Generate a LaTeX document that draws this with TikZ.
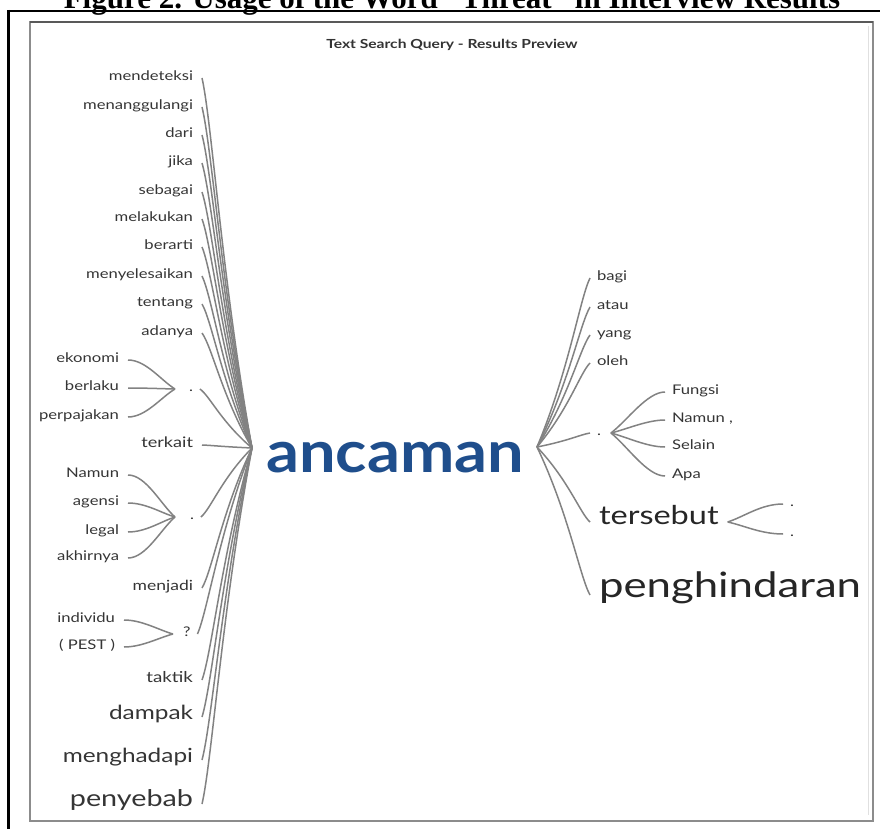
\documentclass[tikz,border=0pt]{standalone}
\usepackage{fontspec}
\usetikzlibrary{calc}
\setmainfont{Lato}
\newfontfamily\wf{Lato}[FakeStretch=1.25]
\newfontfamily\hubf{Lato}[FakeStretch=1.12]
\newfontfamily\capf{Liberation Serif}
\definecolor{linegray}{HTML}{828282}
\definecolor{wordgray}{HTML}{353535}
\definecolor{hubblue}{HTML}{1F4E8C}
\definecolor{framegray}{HTML}{8C8C8C}

\newcommand\wsize[1]{\wf\fontsize{#1}{#1}\selectfont}

% word -> hub connector: short horizontal hook at the word, then a long sweep into the hub
\newcommand\hublink[3]{\draw[conn] let \p1=(#1), \p2=(#2) in (\p1) .. controls ({\x1+(#3)},{\y1+0.12*(\y2-\y1)}) and ({\x2-0.6*(\x2-\x1)},{\y2-0.45*(\y2-\y1)}) .. (\p2);}
% word -> sub-hub connector: leaves the word horizontally, meets the sub-hub at an angle
\newcommand\sublink[3]{\draw[conn] let \p1=(#1), \p2=(#2) in (\p1) .. controls ({\x1+(#3)},\y1) and ({\x2+0.3*(\x1-\x2)},{\y2+0.3*(\y1-\y2)}) .. (\p2);}

\tikzset{
  conn/.style={draw=linegray, line width=1.5pt},
  lw/.style={anchor=mid east, inner sep=0pt, outer xsep=9pt, outer ysep=0pt, text=wordgray, font={\wsize{13.3}}},
  rw/.style={anchor=mid west, inner sep=0pt, outer xsep=7pt, outer ysep=0pt, text=wordgray, font={\wsize{13.3}}},
  tok/.style={anchor=mid west, inner sep=0pt, outer sep=0pt, text=wordgray, font={\wsize{13.3}}},
}

\begin{document}
\begin{tikzpicture}[x=1pt,y=-1pt]
\useasboundingbox (0,0) rectangle (880,829);
\clip (0,0) rectangle (880,829);
\fill[white] (0,0) rectangle (880,829);

% caption and page frame
\node[anchor=base, inner sep=0pt, font={\capf\bfseries\fontsize{31}{31}\selectfont}] (cap) at (452,9)
  {Figure 2. Usage of the Word “Threat” in Interview Results};
\draw[line width=2.3pt] (8,11) -- (880,11);
\draw[line width=2.7pt] (8.7,10) -- (8.7,829);

% screenshot frame
\draw[framegray, line width=1.3pt] (30,22) rectangle (873,821);
\draw[black!65, line width=1.6pt] (30,22) -- (873,22);
\draw[black!12, line width=1pt] (868,26) -- (868,815);

\node[font={\wf\bfseries\fontsize{12.5}{12.5}\selectfont}, text=black!80] (ttl) at (452,45) {Text Search Query - Results Preview};

% central keyword
\node[anchor=base, inner sep=0pt, text=hubblue, font={\hubf\bfseries\fontsize{58}{58}\selectfont}] (anc) at (395,472) {ancaman};
\coordinate (hl) at (252,448);
\coordinate (hr) at (537,447);

% left-hand words
\node[lw] (l1) at (202,78) {mendeteksi};
\node[lw] (l2) at (202,107) {menanggulangi};
\node[lw] (l3) at (202,135) {dari};
\node[lw] (l4) at (202,163) {jika};
\node[lw] (l5) at (202,192) {sebagai};
\node[lw] (l6) at (202,219) {melakukan};
\node[lw] (l7) at (202,247) {berarti};
\node[lw] (l8) at (202,276) {menyelesaikan};
\node[lw] (l9) at (202,304) {tentang};
\node[lw] (l10) at (202,333) {adanya};
\node[tok] (d1) at (175,389) {\kern14pt.\kern7pt};
\node[lw, font={\wsize{14.5}}] (l11) at (202,445) {terkait};
\node[tok] (d2) at (175,517) {\kern15pt.\kern7pt};
\node[lw, font={\wsize{14}}] (l12) at (202,588) {menjadi};
\node[tok] (q) at (173,634) {\kern10pt?\kern7pt};
\node[lw, font={\wsize{15}}] (l13) at (202,680) {taktik};
\node[lw, font={\wsize{19.5}}] (l14) at (202,717) {dampak};
\node[lw, font={\wsize{19.5}}] (l15) at (202,760) {menghadapi};
\node[lw, font={\wsize{23}}] (l16) at (202,804) {penyebab};

% words joined through the left sub-hubs
\node[lw] (a1) at (128,360) {ekonomi};
\node[lw] (a2) at (128,388) {berlaku};
\node[lw] (a3) at (128,417) {perpajakan};
\node[lw] (b1) at (128,475) {Namun};
\node[lw] (b2) at (128,503) {agensi};
\node[lw] (b3) at (128,532) {legal};
\node[lw] (b4) at (128,558) {akhirnya};
\node[lw] (c1) at (124,620) {individu};
\node[lw] (c2) at (124,647) {( PEST )};

% right-hand words
\node[rw] (r1) at (590,278) {bagi};
\node[rw] (r2) at (590,307) {atau};
\node[rw] (r3) at (590,335) {yang};
\node[rw] (r4) at (590,363) {oleh};
\node[tok] (rd) at (590,433) {\kern7pt.\kern10pt};
\node[rw] (f1) at (665,392) {Fungsi};
\node[rw] (f2) at (665,420) {Namun ,};
\node[rw] (f3) at (665,447) {Selain};
\node[rw] (f4) at (665,476) {Apa};
\node[rw, outer xsep=9pt, text=black!85, font={\wsize{26}}] (r5) at (590,522) {tersebut};
\node[tok] (t1) at (783,504) {\kern7pt.};
\node[tok] (t2) at (783,534) {\kern7pt.};
\node[rw, outer xsep=9pt, text=black!85, font={\wsize{35}}] (r6) at (590,595) {penghindaran};

% connectors into the left hub
\foreach \w in {l1,l2,l3,l4,l5,l6,l7,l8,l9,l10,l11,l12,l13,l14,l15,l16}
  {\hublink{\w.mid east}{hl}{10pt}}
\hublink{d1.mid east}{hl}{10pt}
\hublink{d2.mid east}{hl}{10pt}
\hublink{q.mid east}{hl}{10pt}

% left sub-hub connectors
\foreach \w in {a1,a2,a3} {\sublink{\w.mid east}{d1.mid west}{18pt}}
\foreach \w in {b1,b2,b3,b4} {\sublink{\w.mid east}{d2.mid west}{18pt}}
\foreach \w in {c1,c2} {\sublink{\w.mid east}{q.mid west}{18pt}}

% connectors into the right hub
\foreach \w in {r1,r2,r3,r4,r5,r6} {\hublink{\w.mid west}{hr}{-10pt}}
\hublink{rd.mid west}{hr}{-10pt}

% right sub-hub connectors
\foreach \w in {f1,f2,f3,f4} {\sublink{\w.mid west}{rd.mid east}{-18pt}}
\sublink{t1.mid west}{r5.mid east}{-22pt}
\sublink{t2.mid west}{r5.mid east}{-22pt}
\end{tikzpicture}
\end{document}
